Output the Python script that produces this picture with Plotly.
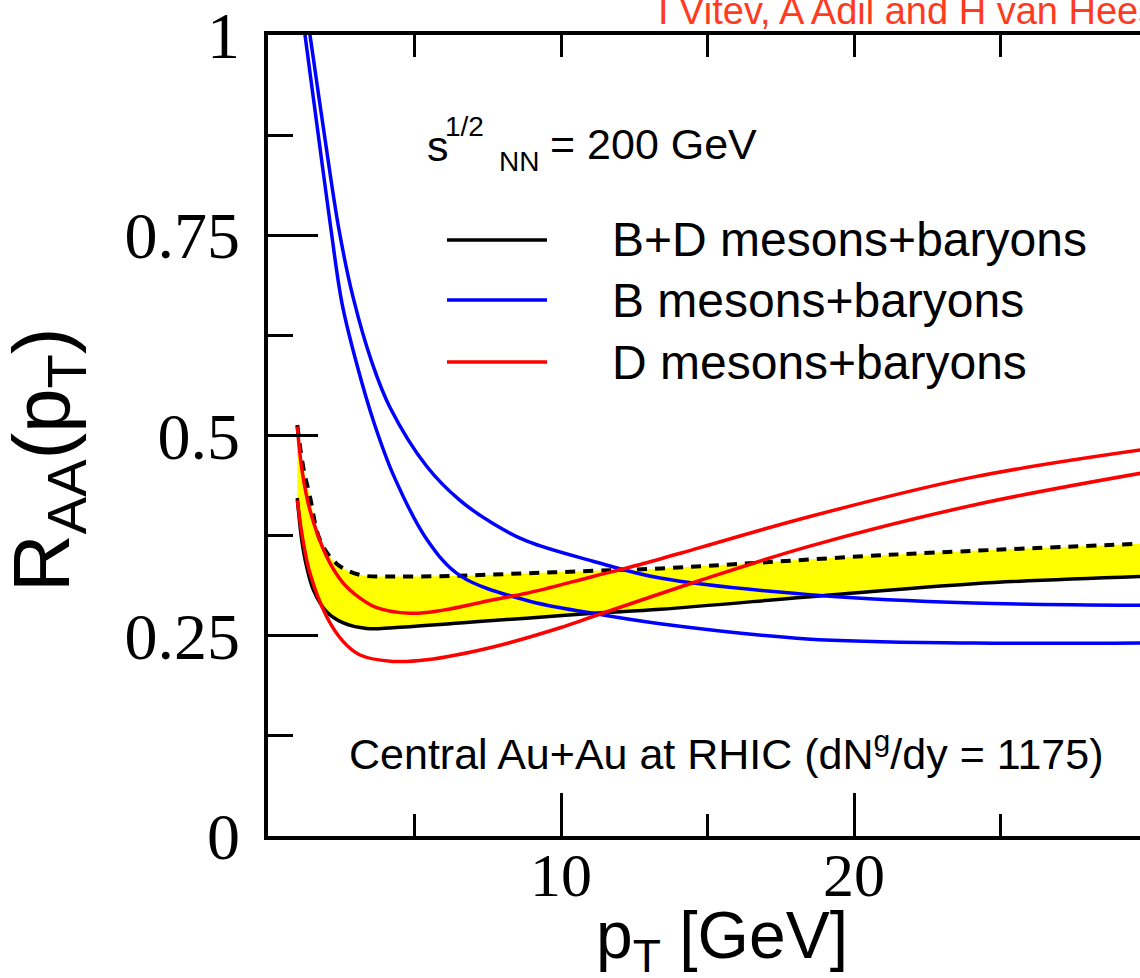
import plotly.graph_objects as go

# ---- data ----
# B+D mesons+baryons, lower edge (solid black)
pt_bd_lo = [1.0, 1.15, 1.32, 1.55, 2.0, 2.57, 3.37, 4.27, 6.55, 8.83, 11.1, 13.4, 18.9, 24.1, 29.8]
raa_bd_lo = [0.422, 0.37, 0.336, 0.307, 0.28, 0.266, 0.259, 0.26, 0.266, 0.272, 0.278, 0.283, 0.300, 0.315, 0.324]
# B+D mesons+baryons, upper edge (dashed black)
pt_bd_hi = [1.0, 1.2, 1.43, 1.77, 2.34, 3.14, 4.27, 6.55, 8.83, 11.1, 13.4, 21.2, 29.8]
raa_bd_hi = [0.513, 0.461, 0.424, 0.37, 0.34, 0.326, 0.324, 0.325, 0.328, 0.331, 0.334, 0.351, 0.365]
# B mesons+baryons (blue), two curves
pt_b1 = [1.05, 1.263, 1.706, 2.15, 2.526, 3.038, 3.618, 4.30, 5.427, 6.553, 8.84, 11.09, 13.38, 18.40, 24.07, 29.8]
raa_b1 = [1.059, 1.0, 0.878, 0.757, 0.665, 0.588, 0.516, 0.449, 0.370, 0.325, 0.294, 0.278, 0.265, 0.246, 0.241, 0.241]
pt_b2 = [1.2, 1.433, 1.911, 2.423, 2.901, 3.549, 4.164, 5.427, 6.553, 7.679, 8.84, 11.09, 13.38, 18.94, 24.07, 29.8]
raa_b2 = [1.06, 1.0, 0.879, 0.757, 0.673, 0.591, 0.535, 0.461, 0.419, 0.390, 0.368, 0.343, 0.322, 0.300, 0.291, 0.288]
# D mesons+baryons (red), two curves
pt_d1 = [1.0, 1.16, 1.43, 2.0, 2.56, 3.14, 3.71, 4.85, 5.97, 7.68, 8.83, 11.09, 12.70, 14.74, 18.40, 24.06, 29.8]
raa_d1 = [0.511, 0.457, 0.407, 0.349, 0.316, 0.297, 0.285, 0.278, 0.282, 0.295, 0.303, 0.324, 0.339, 0.360, 0.398, 0.448, 0.482]
pt_d2 = [1.0, 1.19, 1.433, 2.0, 2.56, 3.14, 4.27, 5.42, 7.68, 9.97, 11.09, 12.70, 14.74, 18.40, 24.06, 29.8]
raa_d2 = [0.419, 0.370, 0.328, 0.274, 0.243, 0.226, 0.218, 0.220, 0.236, 0.260, 0.274, 0.294, 0.319, 0.361, 0.413, 0.453]

x_major = [10, 20]
x_minor = [5, 15, 25]
x_top = [5, 10, 15, 20, 25]
y_major = [0, 0.25, 0.5, 0.75, 1]
y_labels = ["0", "0.25", "0.5", "0.75", "1"]
y_minor = [0.125, 0.375, 0.625, 0.875]

legend_names = ["B+D mesons+baryons", "B mesons+baryons", "D mesons+baryons"]
legend_colors = ["black", "#0000ff", "#ff0000"]

W, H = 1140, 978
L, T, B = 268, 35, 142
XMAX = 29.76
PW, PH = W - L, H - T - B  # plot area size in px (872 x 801)


def px_x(px):  # screen x pixel -> paper x
    return (px - L) / PW


def px_y(py):  # screen y pixel -> paper y
    return (T + PH - py) / PH


SANS = "Liberation Sans, Arial, Helvetica, sans-serif"
SERIF = "Liberation Serif, Times New Roman, serif"
SM = 1.0

fig = go.Figure()

# yellow band between the two B+D edges
fig.add_trace(go.Scatter(x=pt_bd_lo, y=raa_bd_lo, mode="lines",
                         line=dict(width=0, shape="spline", smoothing=SM),
                         showlegend=False, hoverinfo="skip"))
fig.add_trace(go.Scatter(x=pt_bd_hi, y=raa_bd_hi, mode="lines", fill="tonexty",
                         fillcolor="#ffff00",
                         line=dict(width=0, shape="spline", smoothing=SM),
                         showlegend=False, hoverinfo="skip"))

# curves
fig.add_trace(go.Scatter(x=pt_bd_lo, y=raa_bd_lo, mode="lines",
                         line=dict(color="black", width=3.5, shape="spline", smoothing=SM),
                         showlegend=False))
fig.add_trace(go.Scatter(x=pt_bd_hi, y=raa_bd_hi, mode="lines",
                         line=dict(color="black", width=4, dash="10px,8px", shape="spline", smoothing=SM),
                         showlegend=False))
for xs, ys in [(pt_b1, raa_b1), (pt_b2, raa_b2)]:
    fig.add_trace(go.Scatter(x=xs, y=ys, mode="lines",
                             line=dict(color="#0000ff", width=3.5, shape="spline", smoothing=SM),
                             showlegend=False))
for xs, ys in [(pt_d1, raa_d1), (pt_d2, raa_d2)]:
    fig.add_trace(go.Scatter(x=xs, y=ys, mode="lines",
                             line=dict(color="#ff0000", width=3.5, shape="spline", smoothing=SM),
                             showlegend=False))
# dummy trace for the top axis
fig.add_trace(go.Scatter(x=[None], y=[None], xaxis="x2", showlegend=False, hoverinfo="skip"))

# legend (drawn manually to mimic the original)
leg_y = [240, 300, 362]
for name, col, yy in zip(legend_names, legend_colors, leg_y):
    fig.add_shape(type="line", xref="paper", yref="paper", x0=px_x(447), x1=px_x(547),
                  y0=px_y(yy), y1=px_y(yy), line=dict(color=col, width=3.5))
    fig.add_annotation(x=px_x(610), y=px_y(yy), xref="paper", yref="paper", text=name,
                       showarrow=False, xanchor="left", yanchor="middle",
                       font=dict(family=SANS, size=48, color="black"))

# sqrt(s_NN) label
fig.add_annotation(x=px_x(425), y=px_y(146), xref="paper", yref="paper", text="s", showarrow=False,
                   xanchor="left", yanchor="middle", font=dict(family=SANS, size=43, color="black"))
fig.add_annotation(x=px_x(443), y=px_y(126), xref="paper", yref="paper", text="1/2", showarrow=False,
                   xanchor="left", yanchor="middle", font=dict(family=SANS, size=28, color="black"))
fig.add_annotation(x=px_x(497), y=px_y(161), xref="paper", yref="paper", text="NN", showarrow=False,
                   xanchor="left", yanchor="middle", font=dict(family=SANS, size=28, color="black"))
fig.add_annotation(x=px_x(548), y=px_y(144), xref="paper", yref="paper", text="= 200 GeV",
                   showarrow=False, xanchor="left", yanchor="middle",
                   font=dict(family=SANS, size=43, color="black"))

# collision system label
fig.add_annotation(x=px_x(347), y=px_y(751), xref="paper", yref="paper",
                   text="Central Au+Au at RHIC (dN<sup>g</sup>/dy = 1175)", showarrow=False,
                   xanchor="left", yanchor="middle", font=dict(family=SANS, size=43, color="black"))

# authors (cut off at the right edge, as in the original)
fig.add_annotation(x=px_x(656), y=px_y(11), xref="paper", yref="paper",
                   text="I Vitev, A Adil and H van Hees", showarrow=False,
                   xanchor="left", yanchor="middle",
                   font=dict(family=SANS, size=38, color="#ff3b1f"))

# axis titles
fig.add_annotation(x=px_x(722), y=px_y(940), xref="paper", yref="paper",
                   text="p<sub>T</sub> [GeV]", showarrow=False,
                   xanchor="center", yanchor="middle",
                   font=dict(family=SANS, size=66, color="black"))
fig.add_annotation(x=px_x(48), y=px_y(460), xref="paper", yref="paper",
                   text="R<sub>AA</sub>(p<sub>T</sub>)", showarrow=False, textangle=-90,
                   xanchor="center", yanchor="middle",
                   font=dict(family=SANS, size=80, color="black"))

axis_common = dict(showgrid=False, zeroline=False, showline=True, linecolor="black",
                   linewidth=3.5, ticks="inside", tickcolor="black", tickwidth=3)

fig.update_layout(
    width=W, height=H,
    margin=dict(l=L, r=0, t=T, b=B, pad=0),
    paper_bgcolor="white", plot_bgcolor="white",
    showlegend=False,
    xaxis=dict(range=[0, XMAX], tickvals=x_major, ticktext=[str(v) for v in x_major],
               ticklen=43, ticklabelstandoff=-18, ticklabeloverflow="allow",
               tickfont=dict(family=SERIF, size=62, color="black"),
               minor=dict(tickvals=x_minor, ticklen=22, tickwidth=3, tickcolor="black", ticks="inside"),
               automargin=False, **axis_common),
    xaxis2=dict(range=[0, XMAX], overlaying="x", side="top", tickvals=x_top, ticklen=22,
                showticklabels=False, automargin=False, **axis_common),
    yaxis=dict(range=[0, 1], tickvals=y_major, ticktext=y_labels,
               ticklen=50, ticklabelstandoff=11, ticklabeloverflow="allow",
               tickfont=dict(family=SERIF, size=66, color="black"),
               minor=dict(tickvals=y_minor, ticklen=25, tickwidth=3, tickcolor="black", ticks="inside"),
               automargin=False, **axis_common),
)

# the figure is exactly the window size: drop the default page margin
fig.write_html("out.html", config={"displayModeBar": False},
               post_script="document.body.style.margin='0';document.body.style.overflow='hidden';")
